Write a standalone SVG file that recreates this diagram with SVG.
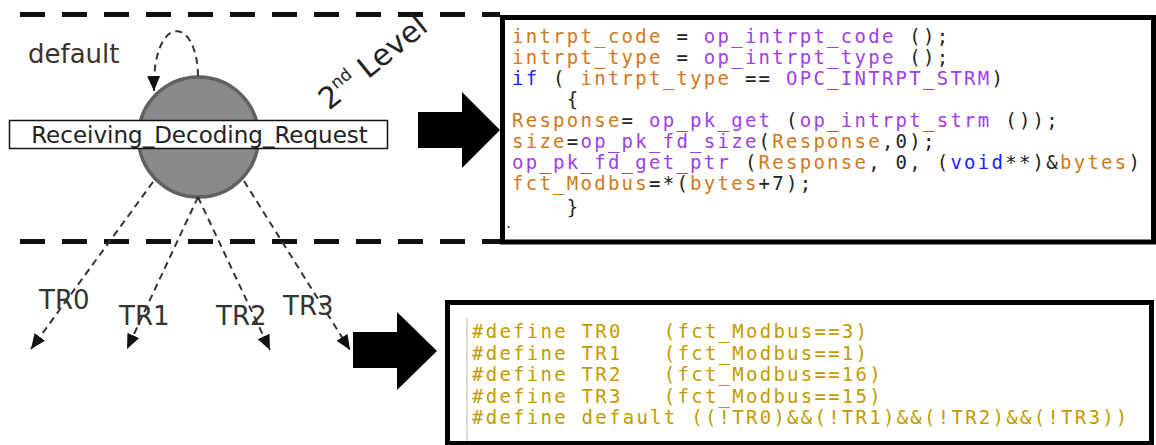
<svg xmlns="http://www.w3.org/2000/svg" width="1156" height="445" viewBox="0 0 1156 445">
<style>
.code{font-family:"DejaVu Sans Mono","Liberation Mono",monospace;font-size:19px;letter-spacing:2.26px;fill:#222}
.o{fill:#d0781c}
.p{fill:#a03ee6}
.b{fill:#1c1cff}
.def{fill:#c49a00}
.lbl{font-family:"DejaVu Sans","Liberation Sans",sans-serif;fill:#333}
.dashsep{stroke:#111;stroke-width:5;stroke-dasharray:25 17;fill:none}
.conn{stroke:#333;stroke-width:2;stroke-dasharray:7 5;fill:none}
.box{fill:#fff;stroke:#000;stroke-width:5}
</style>
<defs>
<marker id="ah" markerUnits="userSpaceOnUse" markerWidth="16" markerHeight="14" refX="15" refY="6.5" orient="auto">
<path d="M0,0 L15,6.5 L0,13 z" fill="#111"/>
</marker>
</defs>
<rect width="1156" height="445" fill="#fff"/>

<g id="level-separators">
<line class="dashsep" x1="20" y1="14.5" x2="500" y2="14.5"/>
<line class="dashsep" x1="20" y1="241.5" x2="500" y2="241.5"/>
</g>

<g id="level-label">
<text class="lbl" font-size="30" transform="translate(329,111) rotate(-39)" style="fill:#222">2<tspan font-size="17" dy="-12">nd</tspan><tspan dy="12"> Level</tspan></text>
</g>

<g id="state-receiving">
<circle cx="198.5" cy="137" r="60" fill="#8a8a8a" stroke="#606060" stroke-width="3.5"/>
<rect x="9.5" y="120.5" width="378" height="28" fill="#fff" stroke="#111" stroke-width="1.5"/>
<text class="lbl" x="199.5" y="142.5" font-size="23" text-anchor="middle" style="fill:#222">Receiving_Decoding_Request</text>
</g>

<g id="connectors">
<path class="conn" d="M198,76 C197,14 152,14 154,91" marker-end="url(#ah)"/>
<line class="conn" x1="153" y1="182" x2="31" y2="349" marker-end="url(#ah)"/>
<line class="conn" x1="198" y1="197" x2="127" y2="349" marker-end="url(#ah)"/>
<line class="conn" x1="198" y1="197" x2="270" y2="350" marker-end="url(#ah)"/>
<line class="conn" x1="244" y1="181" x2="350" y2="350" marker-end="url(#ah)"/>
</g>

<g id="transition-labels">
<text class="lbl" x="28" y="63" font-size="26" style="fill:#3d3229">default</text>
<text class="lbl" x="39" y="309" font-size="26">TR0</text>
<text class="lbl" x="119" y="325" font-size="26">TR1</text>
<text class="lbl" x="216" y="325" font-size="26">TR2</text>
<text class="lbl" x="283" y="315" font-size="26">TR3</text>
</g>

<g id="arrow-top">
<polygon points="418,112 462,112 462,92 500,130 462,168 462,148 418,148" fill="#000"/>
</g>
<g id="arrow-bottom">
<polygon points="353,332 397,332 397,312 437,351 397,390 397,368 353,368" fill="#000"/>
</g>

<g id="code-box-top">
<rect class="box" x="502.5" y="17.5" width="651" height="224.5"/>
<text class="code" xml:space="preserve" x="512" y="43"><tspan class="o">intrpt_code</tspan> = <tspan class="p">op_intrpt_code</tspan> ();</text>
<text class="code" xml:space="preserve" x="512" y="64"><tspan class="o">intrpt_type</tspan> = <tspan class="p">op_intrpt_type</tspan> ();</text>
<text class="code" xml:space="preserve" x="512" y="85"><tspan class="b">if</tspan> ( <tspan class="o">intrpt_type</tspan> == <tspan class="p">OPC_INTRPT_STRM</tspan>)</text>
<text class="code" xml:space="preserve" x="512" y="106">    {</text>
<text class="code" xml:space="preserve" x="512" y="127"><tspan class="o">Response</tspan>= <tspan class="p">op_pk_get</tspan> (<tspan class="p">op_intrpt_strm</tspan> ());</text>
<text class="code" xml:space="preserve" x="512" y="148"><tspan class="o">size</tspan>=<tspan class="p">op_pk_fd_size</tspan>(<tspan class="o">Response</tspan>,0);</text>
<text class="code" xml:space="preserve" x="512" y="169"><tspan class="p">op_pk_fd_get_ptr</tspan> (<tspan class="o">Response</tspan>, 0, (<tspan class="b">void</tspan>**)&amp;<tspan class="o">bytes</tspan>)</text>
<text class="code" xml:space="preserve" x="512" y="190"><tspan class="o">fct_Modbus</tspan>=*(<tspan class="o">bytes</tspan>+7);</text>
<text class="code" xml:space="preserve" x="512" y="214">    }</text>
<text class="code" x="505" y="228" style="font-size:12px">.</text>
</g>

<g id="code-box-bottom">
<rect class="box" x="447.5" y="302.5" width="704" height="141"/>
<line x1="467" y1="318" x2="467" y2="441" stroke="#d0ccc0" stroke-width="1.5"/>
<text class="code def" xml:space="preserve" x="472" y="338">#define TR0   (fct_Modbus==3)</text>
<text class="code def" xml:space="preserve" x="472" y="359.5">#define TR1   (fct_Modbus==1)</text>
<text class="code def" xml:space="preserve" x="472" y="381">#define TR2   (fct_Modbus==16)</text>
<text class="code def" xml:space="preserve" x="472" y="402.5">#define TR3   (fct_Modbus==15)</text>
<text class="code def" xml:space="preserve" x="472" y="424">#define default ((!TR0)&amp;&amp;(!TR1)&amp;&amp;(!TR2)&amp;&amp;(!TR3))</text>
</g>
</svg>
